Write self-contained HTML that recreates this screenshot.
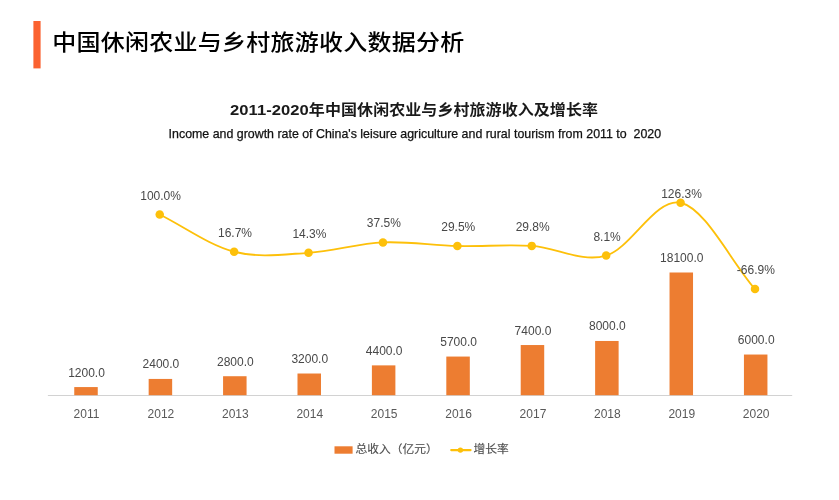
<!DOCTYPE html>
<html lang="zh-CN">
<head>
<meta charset="utf-8">
<title>中国休闲农业与乡村旅游收入数据分析</title>
<style>
html,body{margin:0;padding:0;background:#fff;}
body{width:839px;height:500px;overflow:hidden;position:relative;font-family:"Liberation Sans", "Noto Sans CJK SC", sans-serif;}
svg{position:absolute;left:0;top:0;display:block;}
svg text{font-family:"Liberation Sans", "Noto Sans CJK SC", sans-serif;}
.title{font-size:24px;font-weight:500;fill:#000;letter-spacing:0.26px;}
.ctitle{font-size:16px;font-weight:700;fill:#1a1a1a;letter-spacing:0.08px;}
.csub{font-size:12.4px;white-space:pre;fill:#111;stroke:#111;stroke-width:0.25px;}
.dl{font-size:12px;fill:#484848;text-anchor:middle;}
.yl{font-size:12px;fill:#595959;text-anchor:middle;}
.lg{font-size:11.75px;fill:#505050;stroke:#505050;stroke-width:0.15px;}
</style>
</head>
<body>
<svg width="839" height="500" viewBox="0 0 839 500">
<rect x="0" y="0" width="839" height="500" fill="#ffffff"/>
<rect x="33.4" y="21" width="7.2" height="47.4" fill="#FB6230"/>
<text class="title" transform="translate(52.30 50.30) scale(1 0.92)">中国休闲农业与乡村旅游收入数据分析</text>
<text class="ctitle" transform="translate(230.00 115.20) scale(1 0.92)"><tspan font-size="16.6" letter-spacing="0.05">2011-2020</tspan>年中国休闲农业与乡村旅游收入及增长率</text>
<text class="csub" transform="translate(168.60 138.40) scale(1 1)" xml:space="preserve">Income and growth rate of China's leisure agriculture and rural tourism from 2011 to  2020</text>
<line x1="47.9" y1="395.5" x2="792.2" y2="395.5" stroke="#D2D2D2" stroke-width="1"/>
<rect x="74.25" y="387.07" width="23.5" height="8.13" fill="#ED7D31"/>
<text class="dl" transform="translate(86.50 376.57) scale(1 1)">1200.0</text>
<text class="yl" transform="translate(86.50 418.40) scale(1 1)">2011</text>
<rect x="148.66" y="378.93" width="23.5" height="16.27" fill="#ED7D31"/>
<text class="dl" transform="translate(160.91 368.43) scale(1 1)">2400.0</text>
<text class="yl" transform="translate(160.91 418.40) scale(1 1)">2012</text>
<rect x="223.07" y="376.22" width="23.5" height="18.98" fill="#ED7D31"/>
<text class="dl" transform="translate(235.32 365.72) scale(1 1)">2800.0</text>
<text class="yl" transform="translate(235.32 418.40) scale(1 1)">2013</text>
<rect x="297.49" y="373.51" width="23.5" height="21.69" fill="#ED7D31"/>
<text class="dl" transform="translate(309.74 363.01) scale(1 1)">3200.0</text>
<text class="yl" transform="translate(309.74 418.40) scale(1 1)">2014</text>
<rect x="371.89" y="365.37" width="23.5" height="29.83" fill="#ED7D31"/>
<text class="dl" transform="translate(384.14 354.87) scale(1 1)">4400.0</text>
<text class="yl" transform="translate(384.14 418.40) scale(1 1)">2015</text>
<rect x="446.31" y="356.56" width="23.5" height="38.64" fill="#ED7D31"/>
<text class="dl" transform="translate(458.56 346.06) scale(1 1)">5700.0</text>
<text class="yl" transform="translate(458.56 418.40) scale(1 1)">2016</text>
<rect x="520.71" y="345.04" width="23.5" height="50.16" fill="#ED7D31"/>
<text class="dl" transform="translate(532.96 334.54) scale(1 1)">7400.0</text>
<text class="yl" transform="translate(532.96 418.40) scale(1 1)">2017</text>
<rect x="595.12" y="340.97" width="23.5" height="54.23" fill="#ED7D31"/>
<text class="dl" transform="translate(607.37 330.47) scale(1 1)">8000.0</text>
<text class="yl" transform="translate(607.37 418.40) scale(1 1)">2018</text>
<rect x="669.53" y="272.50" width="23.5" height="122.70" fill="#ED7D31"/>
<text class="dl" transform="translate(681.78 262.00) scale(1 1)">18100.0</text>
<text class="yl" transform="translate(681.78 418.40) scale(1 1)">2019</text>
<rect x="743.94" y="354.53" width="23.5" height="40.67" fill="#ED7D31"/>
<text class="dl" transform="translate(756.19 344.03) scale(1 1)">6000.0</text>
<text class="yl" transform="translate(756.19 418.40) scale(1 1)">2020</text>
<path d="M159.72,214.50 C184.52,226.91 209.32,245.35 234.12,251.74 C258.93,258.12 283.73,254.36 308.54,252.81 C333.34,251.26 358.14,243.57 382.94,242.44 C407.75,241.31 432.55,245.44 457.36,246.01 C482.16,246.59 506.96,244.29 531.76,245.88 C556.57,247.47 581.37,262.77 606.17,255.58 C630.98,248.39 655.78,197.16 680.58,202.74 C705.39,208.33 730.19,260.32 754.99,289.10" fill="none" stroke="#FDC00A" stroke-width="1.85" stroke-linecap="round" stroke-linejoin="round"/>
<circle cx="159.72" cy="214.50" r="4.25" fill="#FDC00A"/>
<circle cx="234.12" cy="251.74" r="4.25" fill="#FDC00A"/>
<circle cx="308.54" cy="252.81" r="4.25" fill="#FDC00A"/>
<circle cx="382.94" cy="242.44" r="4.25" fill="#FDC00A"/>
<circle cx="457.36" cy="246.01" r="4.25" fill="#FDC00A"/>
<circle cx="531.76" cy="245.88" r="4.25" fill="#FDC00A"/>
<circle cx="606.17" cy="255.58" r="4.25" fill="#FDC00A"/>
<circle cx="680.58" cy="202.74" r="4.25" fill="#FDC00A"/>
<circle cx="754.99" cy="289.10" r="4.25" fill="#FDC00A"/>
<text class="dl" transform="translate(160.61 200.00) scale(1 1)">100.0%</text>
<text class="dl" transform="translate(235.02 236.64) scale(1 1)">16.7%</text>
<text class="dl" transform="translate(309.44 237.81) scale(1 1)">14.3%</text>
<text class="dl" transform="translate(383.84 227.24) scale(1 1)">37.5%</text>
<text class="dl" transform="translate(458.25 231.01) scale(1 1)">29.5%</text>
<text class="dl" transform="translate(532.66 230.88) scale(1 1)">29.8%</text>
<text class="dl" transform="translate(607.07 241.18) scale(1 1)">8.1%</text>
<text class="dl" transform="translate(681.49 198.20) scale(1 1)">126.3%</text>
<text class="dl" transform="translate(755.89 274.30) scale(1 1)">-66.9%</text>
<rect x="334.5" y="446.3" width="18.1" height="7.4" fill="#ED7D31"/>
<text class="lg" transform="translate(355.60 453.20) scale(1 0.96)">总收入（亿元）</text>
<line x1="451.2" y1="450.1" x2="470.6" y2="450.1" stroke="#FDC00A" stroke-width="2.1" stroke-linecap="round"/>
<circle cx="460.4" cy="450.1" r="2.7" fill="#FDC00A"/>
<text class="lg" transform="translate(473.50 453.20) scale(1 0.96)">增长率</text>
</svg>
</body>
</html>
